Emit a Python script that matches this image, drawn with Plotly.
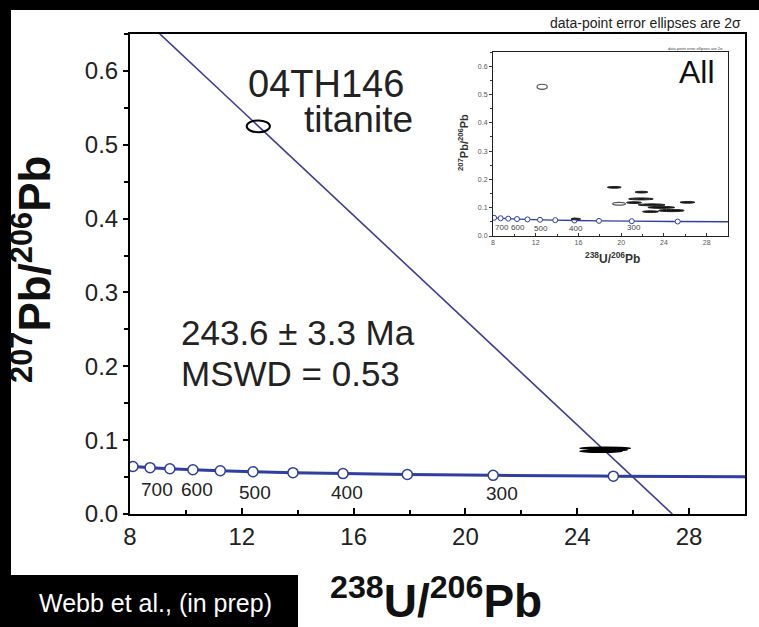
import plotly.graph_objects as go

# ---------------- data ----------------
# Concordia curve (238U/206Pb, 207Pb/206Pb)
concordia_x = [7.99, 8.105, 8.718, 9.426, 10.25, 11.23, 12.40, 13.83, 15.62, 17.92, 20.99, 25.29, 30.2]
concordia_y = [0.0646, 0.06425, 0.06275, 0.06131, 0.05991, 0.05855, 0.05721, 0.05594, 0.05470, 0.05350, 0.05233, 0.05120, 0.05032]
# age markers (750 ... 250 Ma)
marker_x = [8.105, 8.718, 9.426, 10.25, 11.23, 12.40, 13.83, 15.62, 17.92, 20.99, 25.29]
marker_y = [0.06425, 0.06275, 0.06131, 0.05991, 0.05855, 0.05721, 0.05594, 0.05470, 0.05350, 0.05233, 0.05120]
age_labels = ["700", "600", "500", "400", "300"]
age_label_x = [8.96, 10.4, 12.47, 15.75, 21.3]
age_label_y = [0.033, 0.033, 0.029, 0.029, 0.028]

# Discordia regression line
discordia_x = [8.0, 27.4]
discordia_y = [0.688, 0.0]

# Main-panel ellipses (center x, center y, width, height, filled)
main_ell_x = [12.59, 25.0, 24.85, 25.1]
main_ell_y = [0.525, 0.0890, 0.0850, 0.0870]
main_ell_w = [0.83, 1.8, 1.5, 1.4]
main_ell_h = [0.016, 0.0028, 0.0028, 0.0022]
main_ell_fill = [False, True, True, True]

# Inset ("All") ellipses
ins_ell_x = [12.6, 19.35, 21.9, 21.85, 19.8, 21.2, 22.85, 23.75, 22.75, 24.7, 26.2, 15.75]
ins_ell_y = [0.527, 0.172, 0.155, 0.131, 0.114, 0.118, 0.110, 0.101, 0.086, 0.090, 0.119, 0.060]
ins_ell_w = [0.95, 1.3, 1.2, 2.3, 1.2, 1.4, 2.5, 2.5, 1.5, 2.4, 1.4, 0.9]
ins_ell_h = [0.018, 0.006, 0.006, 0.007, 0.010, 0.006, 0.007, 0.007, 0.006, 0.008, 0.006, 0.006]
ins_ell_fill = [False, True, True, True, False, True, True, True, True, True, True, True]
ins_label_x = [8.82, 10.36, 12.5, 15.8, 21.2]
ins_label_y = [0.03, 0.03, 0.025, 0.025, 0.03]

x_ticks = [8, 12, 16, 20, 24, 28]
y_ticks = [0.0, 0.1, 0.2, 0.3, 0.4, 0.5, 0.6]
y_tick_text = ["0.0", "0.1", "0.2", "0.3", "0.4", "0.5", "0.6"]

FONT = "Liberation Sans, Arial, Helvetica, sans-serif"
CONC = "#2f3ea0"
DISC = "#3d3d99"

W, H = 759, 627
ML, MR, MT, MB = 130, 14, 34, 113
PW, PH = W - ML - MR, H - MT - MB


def px(x):
    return (x - ML) / PW


def py(y):
    return (H - MB - y) / PH


fig = go.Figure()

# main panel
fig.add_trace(go.Scatter(x=discordia_x, y=discordia_y, mode="lines",
                         line=dict(color=DISC, width=1.6), hoverinfo="skip", showlegend=False))
fig.add_trace(go.Scatter(x=concordia_x, y=concordia_y, mode="lines",
                         line=dict(color=CONC, width=3, shape="spline"), showlegend=False))
fig.add_trace(go.Scatter(x=marker_x, y=marker_y, mode="markers",
                         marker=dict(size=10, color="white", line=dict(color=CONC, width=1.5)),
                         showlegend=False))

# inset panel
fig.add_trace(go.Scatter(x=concordia_x, y=concordia_y, mode="lines", xaxis="x2", yaxis="y2",
                         line=dict(color=CONC, width=1.3, shape="spline"), showlegend=False))
fig.add_trace(go.Scatter(x=marker_x, y=marker_y, mode="markers", xaxis="x2", yaxis="y2",
                         marker=dict(size=5, color="white", line=dict(color=CONC, width=1)),
                         showlegend=False))

shapes = []
for cx, cy, w, h, f in zip(main_ell_x, main_ell_y, main_ell_w, main_ell_h, main_ell_fill):
    shapes.append(dict(type="circle", xref="x", yref="y",
                       x0=cx - w / 2, x1=cx + w / 2, y0=cy - h / 2, y1=cy + h / 2,
                       line=dict(color="black", width=2 if not f else 1.5),
                       fillcolor="black" if f else "rgba(0,0,0,0)"))
for cx, cy, w, h, f in zip(ins_ell_x, ins_ell_y, ins_ell_w, ins_ell_h, ins_ell_fill):
    shapes.append(dict(type="circle", xref="x2", yref="y2",
                       x0=cx - w / 2, x1=cx + w / 2, y0=cy - h / 2, y1=cy + h / 2,
                       line=dict(color="#222" if f else "#555", width=1 if f else 1.2),
                       fillcolor="#111" if f else "rgba(0,0,0,0)"))

# black surround (slide background)
shapes.append(dict(type="rect", xref="paper", yref="paper", layer="below",
                   x0=px(0), x1=px(W), y0=py(10), y1=py(0), fillcolor="black", line_width=0))
shapes.append(dict(type="rect", xref="paper", yref="paper", layer="below",
                   x0=px(0), x1=px(11), y0=py(H), y1=py(0), fillcolor="black", line_width=0))
shapes.append(dict(type="rect", xref="paper", yref="paper", layer="below",
                   x0=px(0), x1=px(298), y0=py(H), y1=py(575), fillcolor="black", line_width=0))


def note(x, y, text, size, color="#222", xanchor="center", angle=0, xref="paper", yref="paper"):
    return dict(x=x, y=y, xref=xref, yref=yref, text=text, showarrow=False,
                xanchor=xanchor, yanchor="middle", textangle=angle,
                font=dict(family=FONT, size=size, color=color))


ann = []
for t, x, y in zip(age_labels, age_label_x, age_label_y):
    ann.append(note(x, y, t, 19, xref="x", yref="y"))
for t, x, y in zip(age_labels, ins_label_x, ins_label_y):
    ann.append(note(x, y, t, 8, color="#444", xref="x2", yref="y2"))

ann += [
    note(px(326), py(84), "04TH146", 38),
    note(px(358), py(119), "titanite", 37),
    note(px(179), py(332), "243.6 ± 3.3 Ma", 35, xanchor="left"),
    note(px(179), py(373), "MSWD = 0.53", 35, xanchor="left"),
    note(px(743), py(23), "data-point error ellipses are 2σ", 14, xanchor="right"),
    note(px(725), py(48), "data-point error ellipses are 2σ", 4, color="#444", xanchor="right"),
    note(px(717), py(72), "All", 32, color="#111", xanchor="right"),
    # main axis titles
    note(px(436), py(598), "<b><sup>238</sup>U/<sup>206</sup>Pb</b>", 46, color="#111"),
    note(px(31), py(270), "<b><sup>207</sup>Pb/<sup>206</sup>Pb</b>", 44, color="#111", angle=-90),
    # inset axis titles
    note(px(612), py(258), "<b><sup>238</sup>U/<sup>206</sup>Pb</b>", 12, color="#333"),
    note(px(463), py(143), "<b><sup>207</sup>Pb/<sup>206</sup>Pb</b>", 11, color="#333", angle=-90),
    # credit
    note(px(155), py(603), "Webb et al., (in prep)", 25, color="white"),
]

fig.update_layout(
    width=W, height=H,
    margin=dict(l=ML, r=MR, t=MT, b=MB, pad=0),
    paper_bgcolor="white", plot_bgcolor="white",
    showlegend=False,
    shapes=shapes, annotations=ann,
    xaxis=dict(range=[8, 30], tickvals=x_ticks, ticks="inside", ticklen=6, tickwidth=1.5,
               tickcolor="black", showgrid=False, zeroline=False, showline=True, linewidth=2,
               linecolor="black", mirror=True, ticklabelstandoff=0,
               tickfont=dict(family=FONT, size=24, color="#222"),
               minor=dict(dtick=2, tick0=8, ticks="inside", ticklen=4, tickcolor="black")),
    yaxis=dict(range=[0, 0.65], tickvals=y_ticks, ticktext=y_tick_text,
               ticks="outside", ticklen=5, tickwidth=1.5, tickcolor="black", showgrid=False,
               zeroline=False, showline=True, linewidth=2, linecolor="black", mirror=True,
               tickfont=dict(family=FONT, size=24, color="#222"),
               minor=dict(dtick=0.05, tick0=0, ticks="outside", ticklen=4, tickcolor="black")),
    xaxis2=dict(domain=[px(493), px(728)], anchor="y2", range=[8, 30], tickvals=x_ticks,
                ticks="inside", ticklen=3, tickcolor="#333", showgrid=False, zeroline=False,
                showline=True, linewidth=1, linecolor="#222", mirror=True,
                tickfont=dict(family=FONT, size=7, color="#555"),
                minor=dict(dtick=2, tick0=8, ticks="inside", ticklen=2, tickcolor="#333")),
    yaxis2=dict(domain=[py(236), py(52)], anchor="x2", range=[0, 0.65], tickvals=y_ticks,
                ticktext=y_tick_text,
                ticks="outside", ticklen=3, tickcolor="#333", showgrid=False, zeroline=False,
                showline=True, linewidth=1, linecolor="#222", mirror=True,
                tickfont=dict(family=FONT, size=7, color="#555"),
                minor=dict(dtick=0.05, tick0=0, ticks="outside", ticklen=2, tickcolor="#333")),
)

fig.write_html("out.html", config={"displayModeBar": False},
               post_script="document.body.style.margin='0';document.body.style.overflow='hidden';")
